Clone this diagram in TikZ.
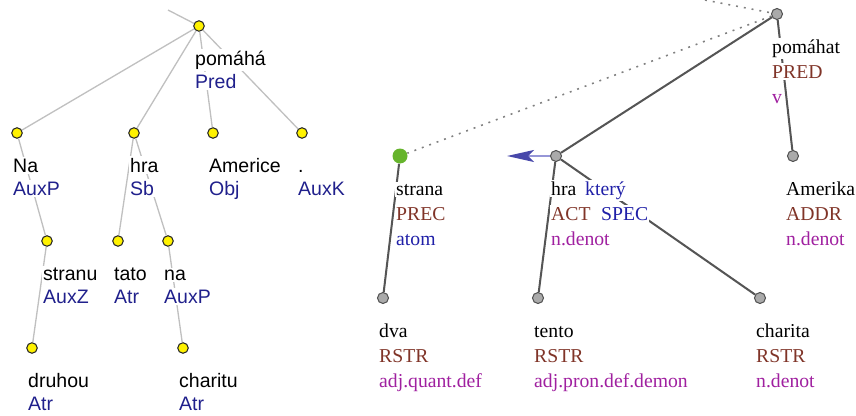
\documentclass[tikz,border=0pt]{standalone}
\usepackage{fontspec}
\newfontfamily\asans{Liberation Sans}
\newfontfamily\tserif{Liberation Serif}
\usepackage{tikz}
\usetikzlibrary{shapes,arrows.meta}

\definecolor{afuncol}{RGB}{32,32,140}
\definecolor{funccol}{RGB}{128,52,40}
\definecolor{tblue}{RGB}{32,32,168}
\definecolor{formcol}{RGB}{160,32,160}
\definecolor{aedge}{RGB}{192,192,192}
\definecolor{tedge}{RGB}{85,85,85}
\definecolor{tgray}{RGB}{170,170,170}
\definecolor{tgreen}{RGB}{102,180,44}
\definecolor{arrline}{RGB}{150,150,215}
\definecolor{arrhead}{RGB}{72,72,170}

\begin{document}
\begin{tikzpicture}[x=0.02cm,y=-0.02cm]
	\useasboundingbox (0,0) rectangle (856,416);
	% analytical tree levels
	\def \aone{26}
	\def \atwo{133}
	\def \athree{241}
	\def \afour{348}
	% tectogrammatical tree levels
	\def \tone{14}
	\def \ttwo{156}
	\def \tthree{298}

	\tikzstyle{a-node}=[circle,draw=black!85,fill=yellow,line width=0.6pt,inner sep=0pt,minimum size=0.21cm]
	\tikzstyle{t-node}=[circle,draw=tedge,fill=tgray,line width=0.6pt,inner sep=0pt,minimum size=0.22cm]
	\tikzstyle{g-node}=[circle,fill=tgreen,inner sep=0pt,minimum size=0.3cm]
	\tikzstyle{a-edge}=[draw=aedge,line width=0.75pt]
	\tikzstyle{t-edge}=[draw=tedge,line width=1.15pt]
	\tikzstyle{coref}=[draw=gray,line width=0.9pt,dash pattern=on 1.1pt off 3.4pt]
	% texts
	\tikzstyle{txt}=[anchor=base west,fill=white,inner xsep=0.5pt,inner ysep=1pt]
	\tikzstyle{a-lemma}=[txt,font=\asans\fontsize{11.1}{13}\selectfont]
	\tikzstyle{a-afun}=[a-lemma,text=afuncol]
	\tikzstyle{t-lemma}=[txt,font=\tserif\fontsize{11.2}{13}\selectfont]
	\tikzstyle{t-func}=[t-lemma,text=funccol]
	\tikzstyle{t-blue}=[t-lemma,text=tblue]
	\tikzstyle{t-form}=[t-lemma,text=formcol]

	% analytical tree
	\coordinate	(a-top)	at (168,10);
	\node[a-node]	(a-pomaha)	at (199,\aone)	{};
	\node[a-node]	(a-na)	at (17,\atwo)	{};
	\node[a-node]	(a-hra)	at (134,\atwo)	{};
	\node[a-node]	(a-americe)	at (213,\atwo)	{};
	\node[a-node]	(a-dot)	at (302,\atwo)	{};
	\node[a-node]	(a-stranu)	at (47,\athree)	{};
	\node[a-node]	(a-tato)	at (118,\athree)	{};
	\node[a-node]	(a-na2)	at (168,\athree)	{};
	\node[a-node]	(a-druhou)	at (32,\afour)	{};
	\node[a-node]	(a-charitu)	at (183,\afour)	{};

	% tectogrammatical tree
	\coordinate	(t-top)	at (705,0);
	\node[t-node]	(t-pomahat)	at (777,\tone)	{};
	\node[g-node]	(t-strana)	at (400,\ttwo)	{};
	\node[t-node]	(t-hra)	at (556,\ttwo)	{};
	\node[t-node]	(t-amerika)	at (793,\ttwo)	{};
	\node[t-node]	(t-dva)	at (383,\tthree)	{};
	\node[t-node]	(t-tento)	at (538,\tthree)	{};
	\node[t-node]	(t-charita)	at (760,\tthree)	{};
	\coordinate	(t-arrow)	at (507,\ttwo);

	\path[a-edge]
		(a-top)	edge	(a-pomaha)
		(a-pomaha)	edge	(a-na)
		(a-pomaha)	edge	(a-hra)
		(a-pomaha)	edge	(a-americe)
		(a-pomaha)	edge	(a-dot)
		(a-na)	edge	(a-stranu)
		(a-stranu)	edge	(a-druhou)
		(a-hra)	edge	(a-tato)
		(a-hra)	edge	(a-na2)
		(a-na2)	edge	(a-charitu);

	\path[coref]
		(t-top)	edge	(t-pomahat)
		(t-pomahat)	edge	(t-strana);
	\path[t-edge]
		(t-pomahat)	edge	(t-hra)
		(t-pomahat)	edge	(t-amerika)
		(t-strana)	edge	(t-dva)
		(t-hra)	edge	(t-tento)
		(t-hra)	edge	(t-charita);
	\draw[draw=arrline,line width=1.2pt,-{Stealth[length=0.54cm,width=0.24cm,inset=0.12cm,color=arrhead]}] (t-hra) -- (t-arrow);

	% labels of the analytical tree
	\node[a-lemma]	(al-pomaha)	at (194,\aone+39)	{pomáhá};
	\node[a-afun]	(af-pomaha)	at (194,\aone+62)	{Pred};
	\node[a-lemma]	(al-na)	at (12,\atwo+39)	{Na};
	\node[a-afun]	(af-na)	at (12,\atwo+62)	{AuxP};
	\node[a-lemma]	(al-hra)	at (129,\atwo+39)	{hra};
	\node[a-afun]	(af-hra)	at (129,\atwo+62)	{Sb};
	\node[a-lemma]	(al-americe)	at (208,\atwo+39)	{Americe};
	\node[a-afun]	(af-americe)	at (208,\atwo+62)	{Obj};
	\node[a-lemma]	(al-dot)	at (297,\atwo+39)	{.};
	\node[a-afun]	(af-dot)	at (297,\atwo+62)	{AuxK};
	\node[a-lemma]	(al-stranu)	at (42,\athree+39)	{stranu};
	\node[a-afun]	(af-stranu)	at (42,\athree+62)	{AuxZ};
	\node[a-lemma]	(al-tato)	at (113,\athree+39)	{tato};
	\node[a-afun]	(af-tato)	at (113,\athree+62)	{Atr};
	\node[a-lemma]	(al-na2)	at (163,\athree+39)	{na};
	\node[a-afun]	(af-na2)	at (163,\athree+62)	{AuxP};
	\node[a-lemma]	(al-druhou)	at (27,\afour+39)	{druhou};
	\node[a-afun]	(af-druhou)	at (27,\afour+62)	{Atr};
	\node[a-lemma]	(al-charitu)	at (178,\afour+39)	{charitu};
	\node[a-afun]	(af-charitu)	at (178,\afour+62)	{Atr};

	% labels of the tectogrammatical tree
	\node[t-lemma]	(tl-pomahat)	at (771,\tone+39)	{pomáhat};
	\node[t-func]	(tf-pomahat)	at (771,\tone+64)	{PRED};
	\node[t-form]	(tg-pomahat)	at (771,\tone+89)	{v};
	\node[t-lemma]	(tl-strana)	at (395,\ttwo+39)	{strana};
	\node[t-func]	(tf-strana)	at (395,\ttwo+64)	{PREC};
	\node[t-blue]	(tg-strana)	at (395,\ttwo+89)	{atom};
	\node[t-lemma]	(tl-hra)	at (550,\ttwo+39)	{hra};
	\node[t-blue]	(tc-hra)	at (584,\ttwo+39)	{který};
	\node[t-func]	(tf-hra)	at (550,\ttwo+64)	{ACT};
	\node[t-blue]	(ts-hra)	at (600,\ttwo+64)	{SPEC};
	\node[t-form]	(tg-hra)	at (550,\ttwo+89)	{n.denot};
	\node[t-lemma]	(tl-amerika)	at (785,\ttwo+39)	{Amerika};
	\node[t-func]	(tf-amerika)	at (785,\ttwo+64)	{ADDR};
	\node[t-form]	(tg-amerika)	at (785,\ttwo+89)	{n.denot};
	\node[t-lemma]	(tl-dva)	at (378,\tthree+39)	{dva};
	\node[t-func]	(tf-dva)	at (378,\tthree+64)	{RSTR};
	\node[t-form]	(tg-dva)	at (378,\tthree+89)	{adj.quant.def};
	\node[t-lemma]	(tl-tento)	at (533,\tthree+39)	{tento};
	\node[t-func]	(tf-tento)	at (533,\tthree+64)	{RSTR};
	\node[t-form]	(tg-tento)	at (533,\tthree+89)	{adj.pron.def.demon};
	\node[t-lemma]	(tl-charita)	at (755,\tthree+39)	{charita};
	\node[t-func]	(tf-charita)	at (755,\tthree+64)	{RSTR};
	\node[t-form]	(tg-charita)	at (755,\tthree+89)	{n.denot};
\end{tikzpicture}
\end{document}
